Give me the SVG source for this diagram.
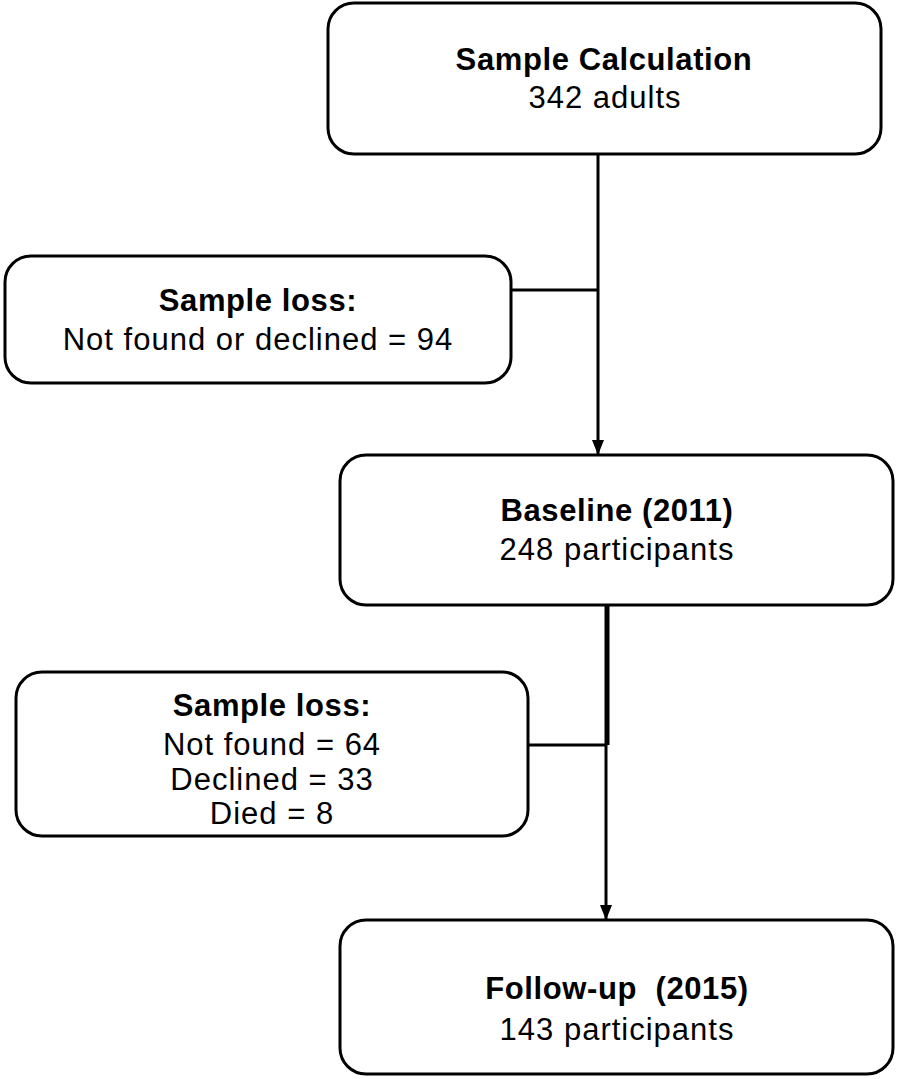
<svg xmlns="http://www.w3.org/2000/svg" width="898" height="1079" viewBox="0 0 898 1079">
<style>
.box{fill:#fff;stroke:#000;stroke-width:3}
.t{font-family:"Liberation Sans",Arial,sans-serif;font-size:31px;fill:#000;text-anchor:middle;letter-spacing:1px;white-space:pre}
.b{font-weight:bold;letter-spacing:0.6px}
.c{stroke:#000;stroke-width:3;fill:none}
</style>
<rect width="898" height="1079" fill="#fff"/>
<g id="connectors">
<line class="c" x1="598" y1="154" x2="598" y2="455"/>
<path d="M592,440 L604,440 L598,455 Z" fill="#000"/>
<line class="c" x1="511" y1="290" x2="598" y2="290"/>
<line x1="607" y1="605" x2="607" y2="745" stroke="#000" stroke-width="5"/>
<line class="c" x1="606" y1="745" x2="606" y2="920"/>
<path d="M600,905 L612,905 L606,920 Z" fill="#000"/>
<line class="c" x1="528" y1="745" x2="607" y2="745"/>
</g>
<g id="n1">
<rect class="box" x="328" y="3" width="553" height="151" rx="26"/>
<text class="t b" x="604" y="70">Sample Calculation</text>
<text class="t" x="605" y="108">342 adults</text>
</g>
<g id="n2">
<rect class="box" x="5" y="256" width="506" height="127" rx="26"/>
<text class="t b" x="258" y="311">Sample loss:</text>
<text class="t" x="258" y="350">Not found or declined = 94</text>
</g>
<g id="n3">
<rect class="box" x="340" y="455" width="553" height="150" rx="26"/>
<text class="t b" x="617" y="521">Baseline (2011)</text>
<text class="t" x="617" y="560">248 participants</text>
</g>
<g id="n4">
<rect class="box" x="16" y="672" width="512" height="164" rx="26"/>
<text class="t b" x="272" y="716">Sample loss:</text>
<text class="t" x="272" y="755">Not found = 64</text>
<text class="t" x="272" y="790">Declined = 33</text>
<text class="t" x="272" y="824">Died = 8</text>
</g>
<g id="n5">
<rect class="box" x="340" y="920" width="553" height="154" rx="26"/>
<text class="t b" x="617" y="999" xml:space="preserve">Follow-up  (2015)</text>
<text class="t" x="617" y="1040">143 participants</text>
</g>
</svg>
